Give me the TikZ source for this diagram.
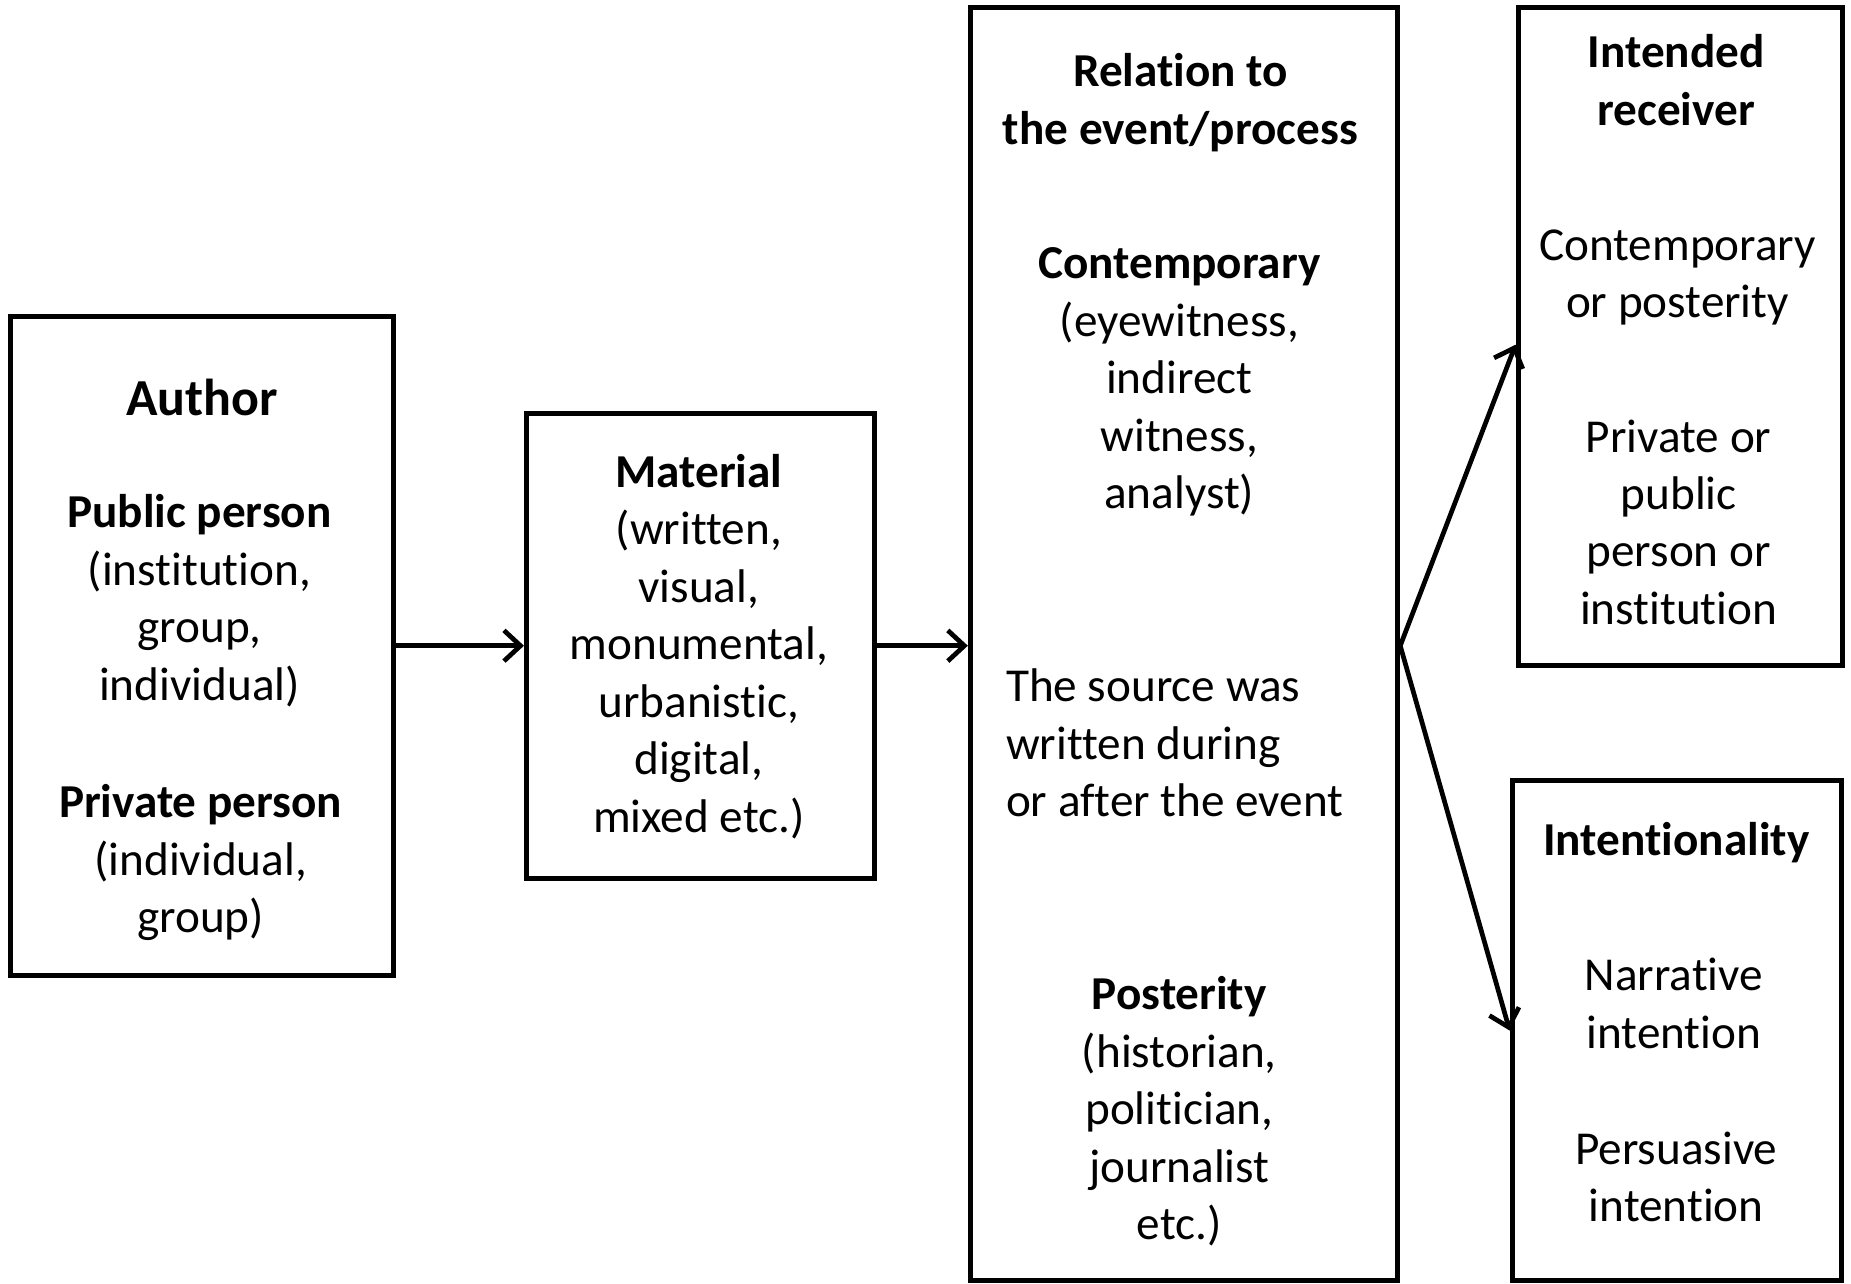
\documentclass[tikz,border=0pt]{standalone}
\usepackage{fontspec}
\setmainfont{Carlito}[Ligatures={NoCommon}]
\usetikzlibrary{arrows.meta}
\tikzset{
  box/.style={draw, line width=4.3pt, rectangle, inner sep=0pt},
  txt/.style={font=\fontsize{40}{48.7}\selectfont, align=center, anchor=base, inner sep=0pt},
  ttl/.style={font=\fontsize{44}{53}\selectfont\bfseries, align=center, anchor=base, inner sep=0pt},
  arr/.style={line width=4pt, -{Straight Barb[length=14pt, width=26pt, line width=4pt]}}
}
\begin{document}
\begin{tikzpicture}[x=1pt,y=-1pt]
\useasboundingbox (0,0) rectangle (1568,1087);
% boxes
\node[box, minimum width=324, minimum height=558] (author) at (171,547) {};
\node[box, minimum width=295, minimum height=394] (material) at (593.5,547) {};
\node[box, minimum width=362, minimum height=1079] (relation) at (1003,545.5) {};
\node[box, minimum width=275, minimum height=558] (receiver) at (1423.5,285) {};
\node[box, minimum width=279, minimum height=424] (intent) at (1420.5,873) {};
% author texts (base = last line)
\node[ttl] (t1) at (171,352) {Author};
\node[txt] (t2) at (169,593) {\textbf{Public person}\\(institution,\\group,\\individual)};
\node[txt] (t3) at (170,790) {\textbf{Private person}\\(individual,\\group)};
% material texts
\node[txt] (t4) at (592,705) {\textbf{Material}\\(written,\\visual,\\monumental,\\urbanistic,\\digital,\\mixed etc.)};
% relation texts
\node[txt] (t5) at (1000,122) {\textbf{Relation to}\\\textbf{the event/process}};
\node[txt] (t6) at (999,431) {\textbf{Contemporary}\\(eyewitness,\\indirect\\witness,\\analyst)};
\node[txt, anchor=base west, align=left] (t7) at (852,692) {The source was\\written during\\or after the event};
\node[txt] (t8) at (999,1050) {\textbf{Posterity}\\(historian,\\politician,\\journalist\\etc.)};
% receiver texts
\node[txt] (t9) at (1420,106) {\textbf{Intended}\\\textbf{receiver}};
\node[txt] (t10) at (1421,269) {Contemporary\\or posterity};
\node[txt] (t11) at (1422,529) {Private or\\public\\person or\\institution};
% intentionality texts
\node[txt] (t12) at (1420,725) {\textbf{Intentionality}};
\node[txt] (t13) at (1418,888) {Narrative\\intention};
\node[txt] (t14) at (1420,1035) {Persuasive\\intention};
% connectors
\coordinate (fork) at (relation.east |- material.east);
\draw[arr] (author.east) -- (material.west);
\draw[arr] (material.east) -- (relation.west |- material.east);
\draw[arr] (fork) -- ([yshift=-7pt]receiver.west);
\draw[arr] (fork) -- (intent.west);
\end{tikzpicture}
\end{document}
